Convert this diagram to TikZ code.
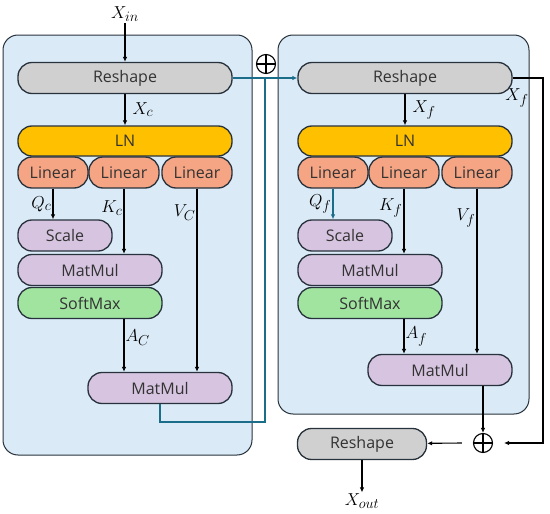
\documentclass[tikz,border=0pt]{standalone}
\usepackage{fontspec}
\setmainfont{Open Sans}
\usetikzlibrary{arrows.meta}
\definecolor{panelblue}{RGB}{218,234,247}
\definecolor{edgedark}{RGB}{40,50,60}
\definecolor{reshgray}{RGB}{208,208,208}
\definecolor{lnamber}{RGB}{255,192,0}
\definecolor{linsalmon}{RGB}{246,165,132}
\definecolor{opviolet}{RGB}{214,196,224}
\definecolor{smgreen}{RGB}{160,228,160}
\definecolor{resteal}{RGB}{26,110,138}
\tikzset{
  panel/.style   = {rectangle, rounded corners=15pt, draw=edgedark, line width=1pt,
                    fill=panelblue, inner sep=0pt},
  blk/.style     = {rectangle, rounded corners=14pt, draw=edgedark, line width=1.3pt,
                    minimum height=31pt, inner sep=0pt, text=black!80,
                    font=\fontsize{16}{18}\selectfont},
  reshape/.style = {blk, fill=reshgray},
  norm/.style    = {blk, fill=lnamber, minimum height=30pt},
  lin/.style     = {blk, fill=linsalmon, minimum width=70pt},
  op/.style      = {blk, fill=opviolet},
  smax/.style    = {blk, fill=smgreen, minimum width=144pt},
  sym/.style     = {inner sep=1pt, font=\fontsize{19}{21}\selectfont},
  plus/.style    = {circle, draw=black, line width=1.1pt, minimum size=19pt, inner sep=0pt,
                    path picture={\draw[line width=1.1pt]
                      (path picture bounding box.north) -- (path picture bounding box.south)
                      (path picture bounding box.west) -- (path picture bounding box.east);}},
  flow/.style    = {-{Latex[length=5pt,width=4.5pt]}, line width=1.1pt, draw=black},
  res/.style     = {line width=1.3pt, draw=resteal},
}

\begin{document}
\begin{tikzpicture}[x=1pt, y=-1pt]
  \useasboundingbox (0,0) rectangle (550,514);

  \node[panel, minimum width=249pt, minimum height=420pt] (pnc) at (127.5,245) {};
  \node[panel, minimum width=251pt, minimum height=379pt] (pnf) at (403.5,224.5) {};

  % coarse branch
  \node[sym]   (xin) at (125,14)  {$X_{in}$};
  \node[reshape, minimum width=214pt] (rsc) at (125,78)  {Reshape};
  \node[norm,    minimum width=214pt] (lnc) at (125,141) {LN};
  \node[lin]   (lqc) at (53,172.5)  {Linear};
  \node[lin]   (lkc) at (124,172.5) {Linear};
  \node[lin]   (lvc) at (197,172.5) {Linear};
  \node[op, minimum width=94pt]  (scc) at (65,235.5) {Scale};
  \node[op, minimum width=144pt] (mmc) at (90,270)   {MatMul};
  \node[smax]  (smc) at (90,303)  {SoftMax};
  \node[op, minimum width=144pt] (mvc) at (160,388)  {MatMul};

  % fine branch
  \node[reshape, minimum width=214pt] (rsf) at (405,78)  {Reshape};
  \node[norm,    minimum width=214pt] (lnf) at (405,141) {LN};
  \node[lin]   (lqf) at (333,172.5) {Linear};
  \node[lin]   (lkf) at (404,172.5) {Linear};
  \node[lin]   (lvf) at (477,172.5) {Linear};
  \node[op, minimum width=94pt]  (scf) at (345,235.5) {Scale};
  \node[op, minimum width=144pt] (mmf) at (370,270)   {MatMul};
  \node[smax]  (smf) at (370,303) {SoftMax};
  \node[op, minimum width=144pt] (mvf) at (440,370)   {MatMul};

  % output
  \node[plus]  (sumt) at (266,64) {};
  \node[plus]  (sumo) at (483,443) {};
  \node[reshape, minimum width=129pt] (rso) at (362,444) {Reshape};
  \node[sym]   (xout) at (362,501) {$X_{out}$};
  \node[sym]   (xfo)  at (517,98)  {$X_f$};

  \coordinate (jt) at (265,78);
  \coordinate (jb) at (265,422);
  \coordinate (wr) at (543,443);

  \draw[flow] (xin) -- (rsc);
  \draw[flow] (rsc) -- node[sym, right, xshift=6pt]{$X_c$} (lnc);
  \draw[flow] (lqc.south) -- node[sym, left]{$Q_c$} (lqc.south |- scc.north);
  \draw[flow] (lkc.south) -- node[sym, left, pos=0.3]{$K_c$} (lkc.south |- mmc.north);
  \draw[flow] (lvc.south) -- node[sym, left, pos=0.13]{$V_C$} (lvc.south |- mvc.north);
  \draw[flow] (lkc.south |- smc.south) -- node[sym, right, pos=0.35]{$A_C$} (lkc.south |- mvc.north);

  \draw[flow] (rsf) -- node[sym, right, xshift=6pt]{$X_f$} (lnf);
  \draw[flow, draw=resteal] (lqf.south) -- node[sym, left]{$Q_f$} (lqf.south |- scf.north);
  \draw[flow] (lkf.south) -- node[sym, left, pos=0.3]{$K_f$} (lkf.south |- mmf.north);
  \draw[flow] (lvf.south) -- node[sym, left, pos=0.18]{$V_f$} (lvf.south |- mvf.north);
  \draw[flow] (lkf.south |- smf.south) -- node[sym, right, pos=0.5]{$A_f$} (lkf.south |- mvf.north);

  \draw[res] (mvc.south) |- (jb) -- (jt);
  \draw[res, -{Latex[length=5pt,width=4.5pt]}] (rsc.east) -- (rsf.west);

  \draw[flow] (mvf.south -| sumo) -- (sumo);
  \draw[flow] (rsf.east) -| (wr) -- ([xshift=11pt]sumo.east);
  \draw[flow] ([xshift=-11pt]sumo.west) -- (rso);
  \draw[flow] (rso) -- (xout);
\end{tikzpicture}
\end{document}
